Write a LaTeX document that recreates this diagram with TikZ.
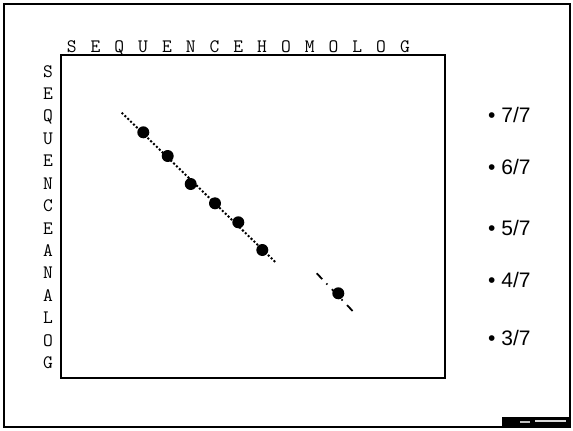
\documentclass[tikz,border=0pt]{standalone}
\usepackage{fontspec}
\setmainfont{Liberation Sans}
\usetikzlibrary{positioning, calc}

\tikzset{
  seqletter/.style={font=\ttfamily\fontsize{19}{21}\selectfont, anchor=base, inner sep=0pt},
  ratiolabel/.style={font=\fontsize{21}{24}\selectfont, anchor=base west, inner sep=0pt},
  hitdot/.style={fill=black},
}

\begin{document}
\begin{tikzpicture}[x=1pt, y=-1pt]
\useasboundingbox (0,0) rectangle (573,431);

% --- Cornice esterna e riquadro ---
\draw[line width=2.8pt] (4,4) rectangle (570,427);
\draw[line width=1.5pt] (61,55) rectangle (445,378);

% --- Sequenze sugli assi ---
\foreach \c [count=\i from 0] in {S,E,Q,U,E,N,C,E,H,O,M,O,L,O,G}{
  \node[seqletter] (top\i) at (71.7+23.8*\i,52) {\c};
}
\foreach \c [count=\i from 0] in {S,E,Q,U,E,N,C,E,A,N,A,L,O,G}{
  \node[seqletter] (side\i) at (48,77+22.43*\i) {\c};
}

% --- Diagonale punteggiata ---
\coordinate (diagA) at (121.7,112.7);
\coordinate (diagB) at (276,262.7);
\draw[line width=2pt, dash pattern=on 2pt off 2pt] (diagA) -- (diagB);

% --- Diagonale tratto-punto ---
\coordinate (offA) at (316.7,273.3);
\coordinate (offB) at (353.3,311.7);
\draw[line width=1.8pt, dash pattern=on 8pt off 6pt on 1.5pt off 6.5pt] (offA) -- (offB);

% --- Punti ---
\foreach \x/\y [count=\i] in {143.3/132.3, 167.7/156, 190.7/184, 215/203.3, 238.3/222.3, 262.3/250, 338.3/293.3}{
  \fill[hitdot] (\x,\y) circle (6pt);
  \coordinate (hit\i) at (\x,\y);
}

% --- Etichette a destra ---
\foreach \y/\n in {122.5/7, 174/6, 235.5/5, 287.5/4, 345.5/3}{
  \node[ratiolabel] (frac\n) at (488,\y) {• \n/7};
}

% --- Logo in basso ---
\fill[black] (502,417) rectangle (570,427);
\fill[gray!50] (520,420.5) rectangle (530,423);
\fill[gray!30] (535,419.5) rectangle (566,422);

\end{tikzpicture}
\end{document}
